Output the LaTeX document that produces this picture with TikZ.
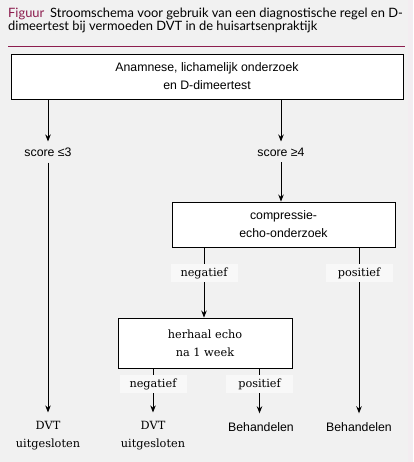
\documentclass[tikz,border=0pt]{standalone}
\usepackage{fontspec}
\setmainfont{Liberation Sans}
\newfontfamily\titlefont{Lato}
\newfontfamily\serifb{DejaVu Serif}
\usetikzlibrary{arrows.meta}
\definecolor{bg}{HTML}{F1F1F1}
\definecolor{strip}{HTML}{F3EDF1}
\definecolor{labbg}{HTML}{F8F8F8}
\definecolor{plum}{HTML}{8C1D4E}
\tikzset{
  box/.style={draw=black, line width=0.9pt, fill=white, inner sep=0pt, align=center,
              font=\fontsize{12.3}{18}\selectfont},
  sbox/.style={box, font=\serifb\fontsize{11.3}{18}\selectfont},
  stxt/.style={inner sep=0pt, align=center, font=\fontsize{12.3}{18}\selectfont},
  rtxt/.style={inner sep=0pt, align=center, font=\serifb\fontsize{11.3}{18}\selectfont},
  lab/.style={fill=labbg, inner sep=0pt, minimum width=67pt, minimum height=18pt,
              font=\serifb\fontsize{11.3}{13}\selectfont},
  arr/.style={line width=0.9pt, -{Stealth[length=7pt,width=5.5pt]}},
  ln/.style={line width=0.9pt},
}
\begin{document}
\begin{tikzpicture}[x=1pt,y=-1pt]
\fill[bg] (0,0) rectangle (413,462);
\fill[strip] (408,0) rectangle (413,462);
\useasboundingbox (0,0) rectangle (413,462);
% title
\node[anchor=north west, inner sep=0pt, align=left, font=\titlefont\fontsize{12.9}{13.2}\selectfont]
  (title) at (8,8) {\textcolor{plum}{Figuur}\hspace{0.45em}Stroomschema voor gebruik van een diagnostische regel en D-\\dimeertest bij vermoeden DVT in de huisartsenpraktijk};
\draw[plum, line width=0.9pt] (8,46) coordinate (r1) -- (405,46) coordinate (r2);
% boxes
\node[box, minimum width=392pt, minimum height=45pt] (top) at (207,76.5)
  {Anamnese, lichamelijk onderzoek\\en D-dimeertest};
\node[box, minimum width=223pt, minimum height=45pt] (comp) at (283.5,224.5)
  {compressie-\\echo-onderzoek};
\node[sbox, minimum width=174pt, minimum height=50pt] (herh) at (205,343)
  {herhaal echo\\na 1 week};
% score texts
\node[stxt] (s1) at (48,152) {score ≤3};
\node[stxt] (s2) at (281,152) {score ≥4};
% labels
\node[lab] (n1) at (204,273) {negatief};
\node[lab] (p1) at (359,273) {positief};
\node[lab] (n2) at (153,384) {negatief};
\node[lab] (p2) at (259.5,384) {positief};
% end texts
\node[rtxt] (d1) at (48,436) {DVT\\uitgesloten};
\node[rtxt] (d2) at (153,436) {DVT\\uitgesloten};
\node[stxt] (b1) at (261,427) {Behandelen};
\node[stxt] (b2) at (359,427) {Behandelen};
% connectors
\draw[arr, shorten >=6pt] (top.south -| s1) -- (s1.north);
\draw[arr, shorten >=6pt] (top.south -| s2) -- (s2.north);
\draw[arr, shorten <=6pt, shorten >=9pt] (s1.south) -- (d1.north);
\draw[arr, shorten <=6pt] (s2.south) -- (comp.north -| s2);
\draw[ln] (comp.south -| n1) -- (n1.north);
\draw[arr] (n1.south) -- (herh.north -| n1);
\draw[ln] (comp.south -| p1) -- (p1.north);
\draw[arr, shorten >=9pt] (p1.south) -- (b2.north);
\draw[ln] (herh.south -| n2) -- (n2.north);
\draw[arr, shorten >=9pt] (n2.south) -- (d2.north);
\draw[ln] (herh.south -| p2) -- (p2.north);
\draw[arr, shorten >=9pt] (p2.south) -- (p2.south |- b1.north);
\end{tikzpicture}
\end{document}
